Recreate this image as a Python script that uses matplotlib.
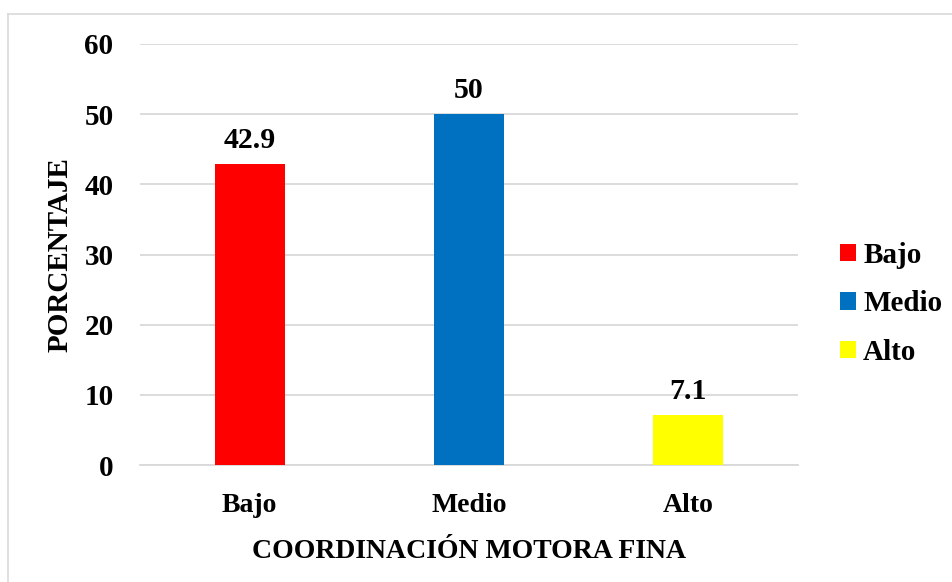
import matplotlib
matplotlib.use("Agg")
import matplotlib.pyplot as plt
import matplotlib.patches as patches
from matplotlib.lines import Line2D

# data
categories = ['Bajo', 'Medio', 'Alto']
percentages = [42.9, 50, 7.1]
value_labels = ['42.9', '50', '7.1']
bar_colors = ['#FF0000', '#0070C0', '#FFFF00']
y_ticks = [0, 10, 20, 30, 40, 50, 60]

plt.rcParams['font.family'] = ['Liberation Serif', 'DejaVu Serif']
plt.rcParams['font.weight'] = 'bold'

fig = plt.figure(figsize=(9.53, 5.82), dpi=100)
ax = fig.add_axes([0.1469, 0.201, 0.6905, 0.7234])

x = range(len(categories))
ax.bar(x, percentages, width=0.32, color=bar_colors, zorder=3)

# value labels above each bar
for xi, val, txt in zip(x, percentages, value_labels):
    ax.annotate(txt, (xi, val), xytext=(0, 7), textcoords='offset points',
                ha='center', va='bottom', fontsize=21.5, fontweight='bold')

ax.set_xlim(-0.5, len(categories) - 0.5)
ax.set_ylim(0, 60)
ax.set_yticks(y_ticks)
ax.set_yticklabels([str(t) for t in y_ticks], fontsize=21, fontweight='bold')
ax.set_xticks(list(x))
ax.set_xticklabels(categories, fontsize=20, fontweight='bold')
ax.tick_params(axis='y', length=0, pad=19)
ax.tick_params(axis='x', length=0, pad=20)

# light grid lines, no frame except baseline
ax.yaxis.grid(True, color='#d9d9d9', linewidth=1.3, zorder=0)
for side in ['top', 'right', 'left']:
    ax.spines[side].set_visible(False)
ax.spines['bottom'].set_color('#d9d9d9')
ax.spines['bottom'].set_linewidth(1.3)

ax.set_ylabel('PORCENTAJE', fontsize=21, fontweight='bold', labelpad=8)
ax.set_xlabel('COORDINACIÓN MOTORA FINA', fontsize=20, fontweight='bold', labelpad=15)

# legend on the right
handles = [patches.Patch(facecolor=c, edgecolor='none') for c in bar_colors]
fig.legend(handles, categories, loc='center left', bbox_to_anchor=(0.866, 0.478),
           frameon=False, prop={'size': 21, 'weight': 'bold'}, borderpad=0,
           handlelength=0.55, handleheight=0.55, handletextpad=0.25, labelspacing=0.74)

# outer chart border (left and top only visible in the crop)
fig.add_artist(Line2D([8.5 / 953, 8.5 / 953], [0, 1 - 14 / 582], transform=fig.transFigure,
                      color='#d9d9d9', linewidth=1.2))
fig.add_artist(Line2D([8.5 / 953, 1], [1 - 14 / 582, 1 - 14 / 582], transform=fig.transFigure,
                      color='#d9d9d9', linewidth=1.2))

fig.savefig('out.png', dpi=100)
